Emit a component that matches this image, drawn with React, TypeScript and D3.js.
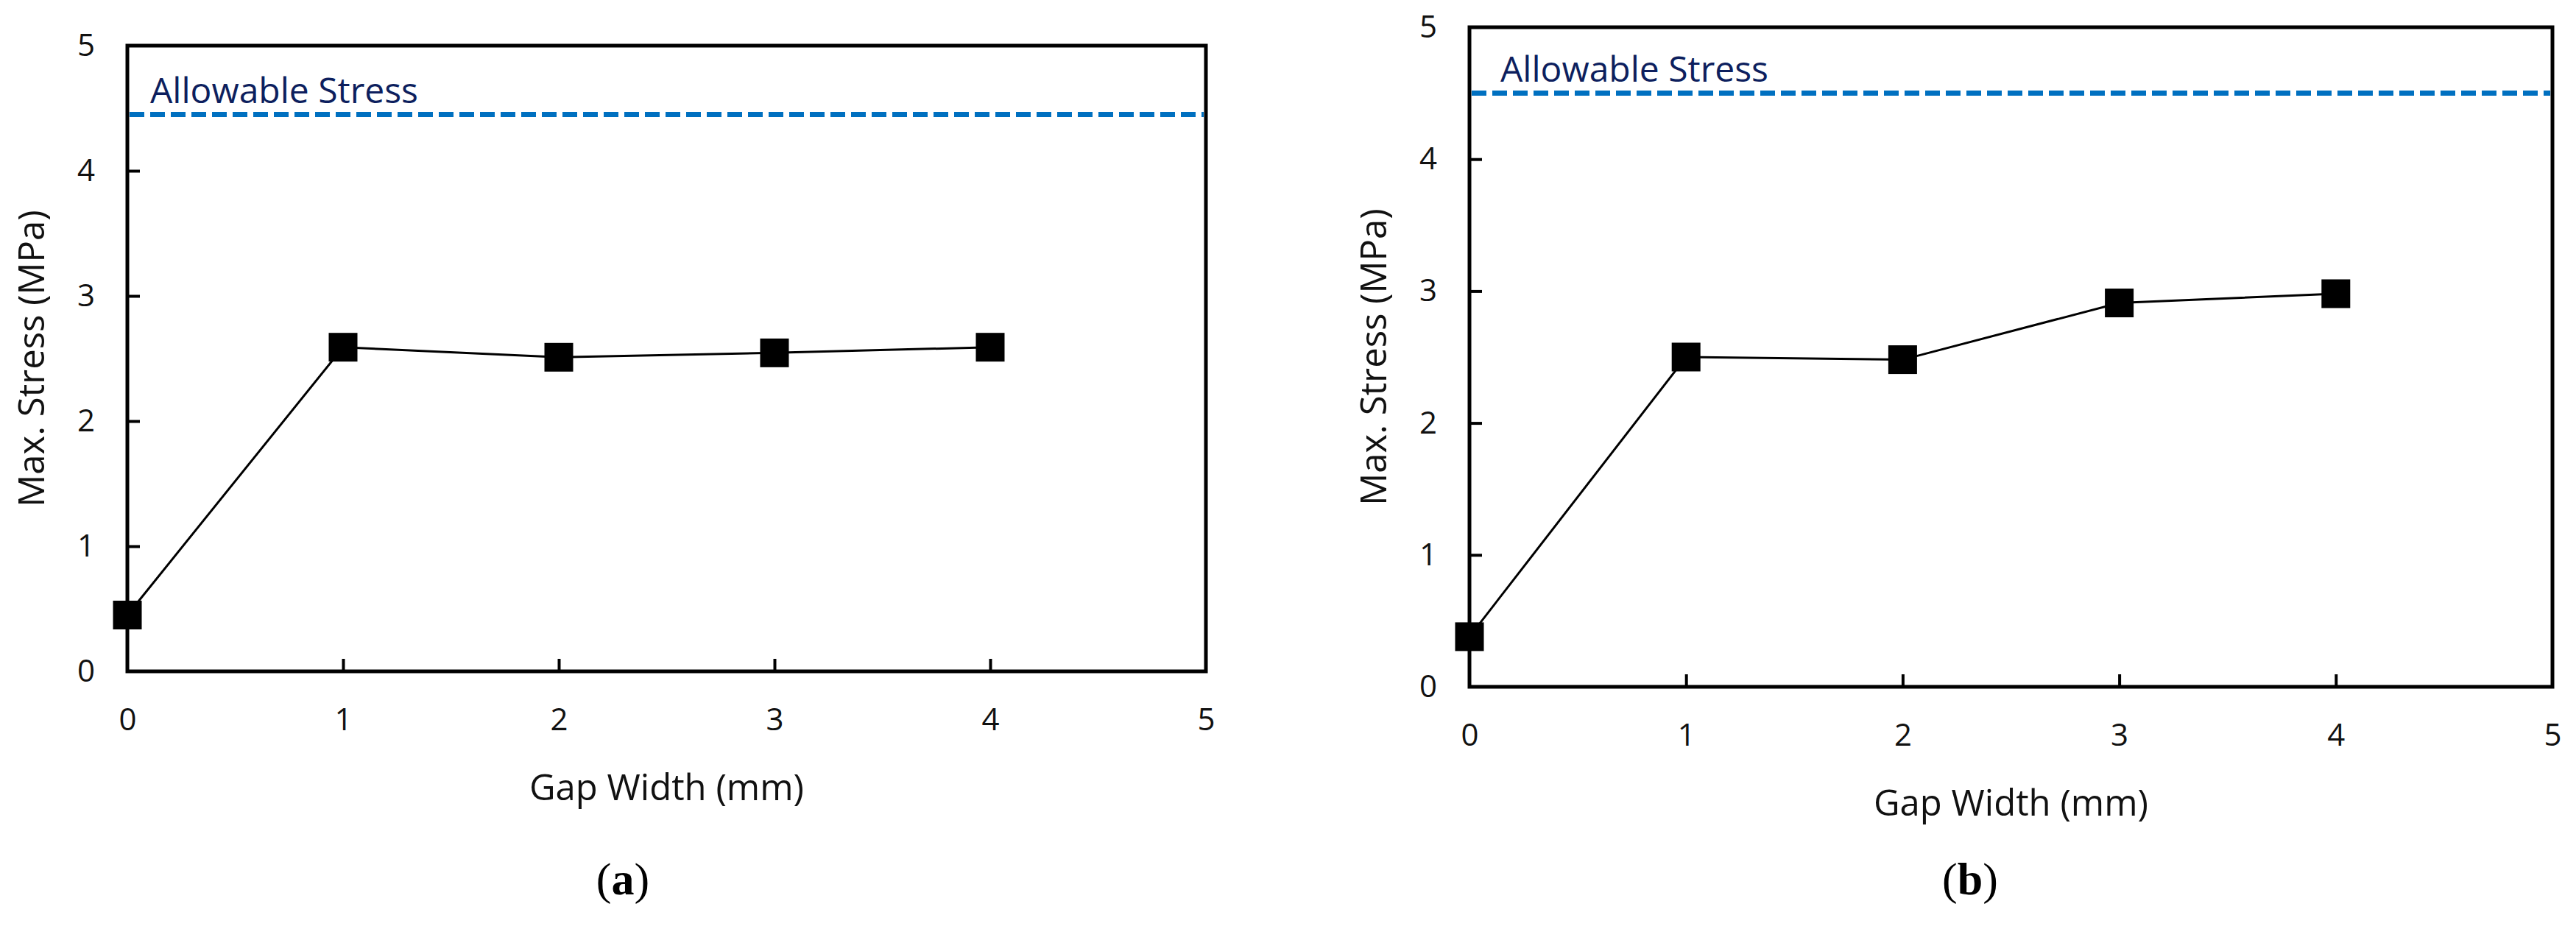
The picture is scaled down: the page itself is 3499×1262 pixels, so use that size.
import React, { useEffect, useRef } from 'react';
import * as d3 from 'd3';

// values
const gapWidths = [0, 1, 2, 3, 4];
const stressA = [0.45, 2.59, 2.51, 2.545, 2.59];
const stressB = [0.38, 2.5, 2.48, 2.91, 2.98];
const allowableA = 4.45;
const allowableB = 4.5;
const xTicks = [0, 1, 2, 3, 4, 5];
const yTicks = [0, 1, 2, 3, 4, 5];
const panelLabels = ['a', 'b'];

const FONT = "'Open Sans', 'Noto Sans', sans-serif";

type Panel = {
	left: number; right: number; top: number; bottom: number;
	values: number[]; allowable: number; label: string; labelX: number; textDx: number;
};

function drawPanel(svg: d3.Selection<SVGSVGElement, unknown, null, undefined>, p: Panel) {
	const x = d3.scaleLinear().domain([0, 5]).range([p.left, p.right]);
	const y = d3.scaleLinear().domain([0, 5]).range([p.bottom, p.top]);
	const g = svg.append('g');

	// inner ticks
	g.append('g')
		.attr('transform', `translate(${p.left},0)`)
		.call(d3.axisLeft(y).tickValues(yTicks.slice(1, -1)).tickSize(-17).tickFormat(() => ''))
		.call((s) => s.select('.domain').remove())
		.selectAll('line').attr('stroke', '#000').attr('stroke-width', 4);
	g.append('g')
		.attr('transform', `translate(0,${p.bottom})`)
		.call(d3.axisBottom(x).tickValues(xTicks.slice(1, -1)).tickSize(-17).tickFormat(() => ''))
		.call((s) => s.select('.domain').remove())
		.selectAll('line').attr('stroke', '#000').attr('stroke-width', 4);

	// tick labels
	const yl = g.append('g')
		.attr('transform', `translate(${p.left},0)`)
		.call(d3.axisLeft(y).tickValues(yTicks).tickSize(0).tickPadding(44).tickFormat(d3.format('d')));
	yl.select('.domain').remove();
	yl.attr('font-family', FONT).attr('font-size', 42);
	yl.selectAll('text').attr('fill', '#111');

	const xl = g.append('g')
		.attr('transform', `translate(0,${p.bottom})`)
		.call(d3.axisBottom(x).tickValues(xTicks).tickSize(0).tickPadding(50).tickFormat(d3.format('d')));
	xl.select('.domain').remove();
	xl.attr('font-family', FONT).attr('font-size', 42);
	xl.selectAll('text').attr('fill', '#111');

	// frame
	g.append('rect')
		.attr('x', p.left).attr('y', p.top)
		.attr('width', p.right - p.left).attr('height', p.bottom - p.top)
		.attr('fill', 'none').attr('stroke', '#000').attr('stroke-width', 5);

	// allowable stress
	g.append('line')
		.attr('x1', x(0) + 3).attr('x2', x(5) - 3)
		.attr('y1', y(p.allowable)).attr('y2', y(p.allowable))
		.attr('stroke', '#0070C0').attr('stroke-width', 7).attr('stroke-dasharray', '20,8');
	g.append('text')
		.attr('x', p.left + p.textDx).attr('y', y(p.allowable) - 16)
		.attr('font-family', FONT).attr('font-size', 48).attr('fill', '#0D1F5E')
		.text('Allowable Stress');

	// series
	const pts = gapWidths.map((gw, i) => [gw, p.values[i]] as [number, number]);
	g.append('path')
		.datum(pts)
		.attr('d', d3.line<[number, number]>().x((d) => x(d[0])).y((d) => y(d[1])))
		.attr('fill', 'none').attr('stroke', '#000').attr('stroke-width', 3);
	g.selectAll('rect.mk')
		.data(pts)
		.enter()
		.append('rect')
		.attr('class', 'mk')
		.attr('x', (d) => x(d[0]) - 19.5).attr('y', (d) => y(d[1]) - 19.5)
		.attr('width', 39).attr('height', 39)
		.attr('fill', '#000');

	// axis titles
	g.append('text')
		.attr('x', (p.left + p.right) / 2).attr('y', p.bottom + 175)
		.attr('text-anchor', 'middle')
		.attr('font-family', FONT).attr('font-size', 49).attr('fill', '#111')
		.text('Gap Width (mm)');
	g.append('text')
		.attr('transform', `translate(${p.left - 113},${(p.top + p.bottom) / 2}) rotate(-90)`)
		.attr('text-anchor', 'middle')
		.attr('font-family', FONT).attr('font-size', 49).attr('fill', '#111')
		.text('Max. Stress (MPa)');

	// panel label
	const lab = g.append('text')
		.attr('x', p.labelX).attr('y', 1215)
		.attr('text-anchor', 'middle')
		.attr('font-family', "'Liberation Serif', 'DejaVu Serif', serif").attr('font-size', 62).attr('fill', '#000');
	lab.append('tspan').text('(');
	lab.append('tspan').attr('font-weight', 'bold').text(p.label);
	lab.append('tspan').text(')');
}

export default function App() {
	const ref = useRef<SVGSVGElement>(null);
	useEffect(() => {
		const svg = d3.select(ref.current!);
		svg.selectAll('*').remove();
		drawPanel(svg, {
			left: 173, right: 1638, top: 62, bottom: 912,
			values: stressA, allowable: allowableA, label: panelLabels[0], labelX: 846, textDx: 31,
		});
		drawPanel(svg, {
			left: 1996, right: 3467, top: 37, bottom: 933,
			values: stressB, allowable: allowableB, label: panelLabels[1], labelX: 2676, textDx: 42,
		});
	}, []);
	return (
		<svg ref={ref} width={3499} height={1262}
			style={{ position: 'absolute', left: 0, top: 0, background: '#fff' }} />
	);
}
